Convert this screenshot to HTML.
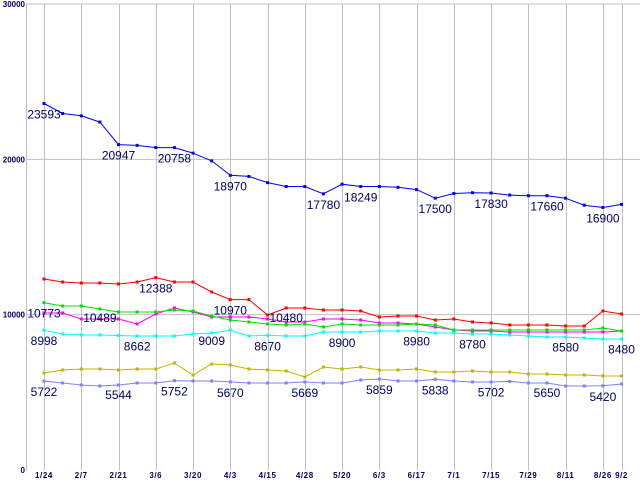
<!DOCTYPE html>
<html><head><meta charset="utf-8"><style>
html,body{margin:0;padding:0;background:#fff;}
svg{display:block;font-family:"Liberation Sans",sans-serif;}
</style></head><body>
<svg id="chart" width="640" height="480" viewBox="0 0 640 480" xmlns="http://www.w3.org/2000/svg"></svg>
<script>
const dates = ["1/24","2/7","2/21","3/6","3/20","4/3","4/15","4/28","5/20","6/3","6/17","7/1","7/15","7/29","8/11","8/26","9/2"];
const dateIdx = [0,2,4,6,8,10,12,14,16,18,20,22,24,26,28,30,31];
const yTicks = [0,10000,20000,30000];
const blueVals = [23593,22950,22800,22400,20947,20900,20758,20758,20400,19900,18970,18900,18500,18250,18250,17780,18400,18249,18249,18200,18050,17500,17800,17850,17830,17700,17660,17660,17500,17050,16900,17100];
const redVals = [12297,12103,12039,12039,11975,12103,12388,12103,12103,11460,10970,10970,9979,10430,10430,10300,10300,10237,9850,9914,9914,9657,9721,9528,9464,9335,9335,9335,9271,9271,10237,10043];
const greenVals = [10773,10558,10558,10365,10172,10172,10172,10300,10237,9914,9657,9528,9399,9335,9399,9206,9399,9335,9335,9335,9399,9335,9013,9013,9013,9013,9013,9013,9013,9013,9142,8949];
const magentaVals = [10108,10108,9721,9721,9721,9399,10043,10430,10172,9850,9850,9850,9721,9528,9528,9721,9721,9657,9464,9464,9399,9206,9013,8949,8949,8884,8884,8884,8884,8884,8884,8949];
const cyanVals = [8998,8756,8691,8691,8662,8627,8627,8627,8756,8820,9009,8627,8670,8627,8627,8884,8884,8884,8949,8949,8949,8820,8820,8756,8756,8691,8627,8563,8563,8498,8434,8434];
const oliveVals = [6245,6438,6502,6502,6438,6502,6502,6889,6116,6824,6760,6502,6438,6374,5987,6631,6502,6631,6438,6438,6502,6309,6309,6374,6309,6309,6180,6180,6116,6116,6052,6052];
const periVals = [5722,5601,5472,5408,5472,5601,5601,5752,5730,5730,5670,5601,5601,5601,5669,5601,5601,5794,5859,5730,5730,5838,5730,5665,5665,5702,5601,5601,5408,5408,5420,5537];
const blueLabels = [[0,23593],[4,20947],[7,20758],[10,18970],[15,17780],[17,18249],[21,17500],[24,17830],[27,17660],[30,16900]];
const redLabels = [[6,12388],[10,10970],[13,10480]];
const greenLabels = [[0,10773]];
const magentaLabels = [[3,10489]];
const cyanLabels = [[0,8998],[5,8662],[9,9009],[12,8670],[16,8900],[20,8980],[23,8780],[28,8580],[31,8480]];
const oliveLabels = [];
const periLabels = [[0,5722],[4,5544],[7,5752],[10,5670],[14,5669],[18,5859],[21,5838],[24,5702],[27,5650],[30,5420]];

const NS="http://www.w3.org/2000/svg";
const svg=document.getElementById('chart');
const X0=44, DX=18.63, Y0=470, YMAX=30000, YTOP=4;
function xs(i){return X0+i*DX;}
function ys(v){return Y0-(v/YMAX)*(Y0-YTOP);}
function mk(tag,attrs){const e=document.createElementNS(NS,tag);for(const k in attrs)e.setAttribute(k,attrs[k]);svg.appendChild(e);return e;}

yTicks.forEach(t=>{
  if(t>0){const l=mk('line',{x1:26,x2:640,y1:ys(t),y2:ys(t),stroke:'#c0c0c0','stroke-width':1});
  
  }
  const tx=mk('text',{x:25,y:ys(t)+3,'text-anchor':'end','font-size':8,'font-weight':'bold',fill:'#000066'});
  tx.textContent=String(t);
  
  
});
const ax=mk('line',{x1:26.5,x2:26.5,y1:4,y2:470,stroke:'#c0c0c0','stroke-width':1});


dates.forEach((d,k)=>{
  const x=Math.round(xs(dateIdx[k]))+0.5;
  const l=mk('line',{x1:x,x2:x,y1:4,y2:470,stroke:'#c0c0c0','stroke-width':1});
  
  
  const t=mk('text',{x:xs(dateIdx[k]),y:478,'text-anchor':'middle','font-size':8,'font-weight':'bold',fill:'#000066','letter-spacing':0.6});
  t.textContent=d;
  
  
});

const series=[
  ['olive',oliveVals,'#c0b400',oliveLabels],
  ['periwinkle',periVals,'#8080ff',periLabels],
  ['cyan',cyanVals,'#00ffff',cyanLabels],
  ['magenta',magentaVals,'#ff00ff',magentaLabels],
  ['green',greenVals,'#00e000',greenLabels],
  ['red',redVals,'#ff0000',redLabels],
  ['blue',blueVals,'#0000ff',blueLabels]
];
series.forEach(([name,vals,col,labels])=>{
  const pts=vals.map((v,i)=>xs(i).toFixed(1)+','+ys(v).toFixed(1)).join(' ');
  const pl=mk('polyline',{points:pts,fill:'none',stroke:col,'stroke-width':1});
  
  
  vals.forEach((v,i)=>{
    const r=mk('rect',{x:xs(i)-1.5,y:ys(v)-1.5,width:3,height:3,fill:col});
    
    
  });
});
series.forEach(([name,vals,col,labels])=>{
  labels.forEach(([i,v])=>{
    const t=mk('text',{x:xs(i),y:ys(v)+15,'text-anchor':'middle','font-size':12,fill:'#000066'});
    t.textContent=String(v);
    
    
  });
});
</script>
</body></html>
